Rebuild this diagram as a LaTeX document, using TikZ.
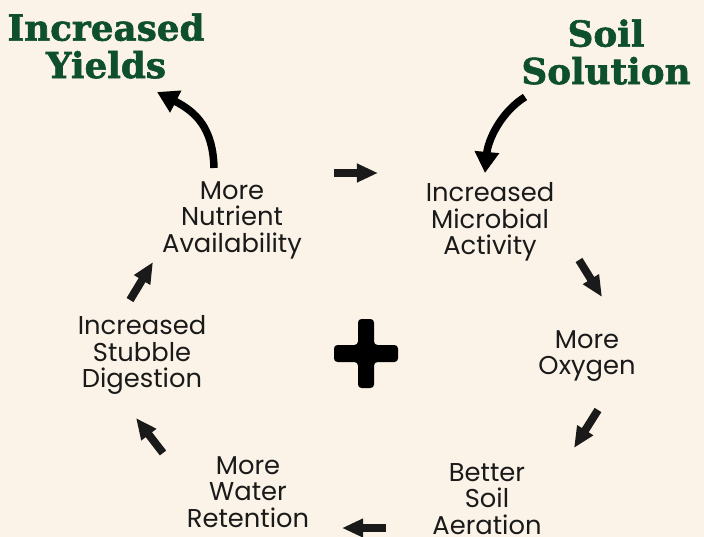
\documentclass[tikz,border=0pt]{standalone}
\usepackage{fontspec}
\setmainfont{Poppins}
\newfontfamily\headfont{DejaVu Serif}[BoldFeatures={FakeBold=1.6}]
\usepackage{xcolor}
\usetikzlibrary{arrows.meta,positioning}
\definecolor{paper}{HTML}{FBF3E7}
\definecolor{leaf}{HTML}{0E4F2D}
\definecolor{ink}{HTML}{1A1A1A}

\begin{document}
\begin{tikzpicture}[x=0.03cm, y=-0.03cm,
		stage/.style={align=center, text=ink, inner sep=0pt, font=\fontsize{22}{22.6}\selectfont},
		headline/.style={align=center, text=leaf, inner sep=0pt, font=\headfont\bfseries\fontsize{30.5}{32}\selectfont},
		flow/.style={line width=6.8pt, draw=ink, -{Triangle[length=18pt, width=15pt, fill=ink]}},
		curvearrow/.style={line width=6.4pt, draw=black, -{Triangle[length=18pt, width=20pt, fill=black]}}]
		\fill [paper] (0,0) rectangle (704,537);
		\useasboundingbox (0,0) rectangle (704,537);
		% titles
		\node [headline] (yields) at (106,46) {Increased\\Yields};
		\node [headline] (soil) at (606,52) {Soil\\Solution};
		% the cycle
		\node [stage] (nutrient) at (232,220) {More\\Nutrient\\Availability};
		\node [stage] (microbial) at (490,222) {Increased\\Microbial\\Activity};
		\node [stage] (oxygen) at (587,356) {More\\Oxygen};
		\node [stage] (aeration) at (487,499) {Better\\Soil\\Aeration};
		\node [stage] (water) at (248,492) {More\\Water\\Retention};
		\node [stage] (stubble) at (142,355) {Increased\\Stubble\\Digestion};
		% arrow ends
		\coordinate (nm-a) at (334,173);
		\coordinate (nm-b) at (378,173);
		\coordinate (mo-a) at (579,260);
		\coordinate (mo-b) at (602,297);
		\coordinate (oa-a) at (598,410);
		\coordinate (oa-b) at (574,448);
		\coordinate (aw-a) at (386,528);
		\coordinate (aw-b) at (342,528);
		\coordinate (ws-a) at (163,453);
		\coordinate (ws-b) at (136,418);
		\coordinate (sn-a) at (130,300);
		\coordinate (sn-b) at (153,262);
		\coordinate (ny-a) at (214,168);
		\coordinate (ny-b) at (157,92);
		\coordinate (sm-a) at (525,97);
		\coordinate (sm-b) at (485,173);
		\draw [flow] (nm-a) -- (nm-b);
		\draw [flow] (mo-a) -- (mo-b);
		\draw [flow] (oa-a) -- (oa-b);
		\draw [flow] (aw-a) -- (aw-b);
		\draw [flow] (ws-a) -- (ws-b);
		\draw [flow] (sn-a) -- (sn-b);
		\draw [curvearrow] (ny-a) .. controls (213,128) and (196,112) .. (ny-b);
		\draw [curvearrow] (sm-a) .. controls (501,112) and (488,140) .. (sm-b);
		% plus sign
		\fill [black, rounded corners=3pt] (358,319) -- (374,319) -- (374,345) -- (398,345) -- (398,362) -- (374,362) -- (374,388) -- (358,388) -- (358,362) -- (334,362) -- (334,345) -- (358,345) -- cycle;
	\end{tikzpicture}
\end{document}
